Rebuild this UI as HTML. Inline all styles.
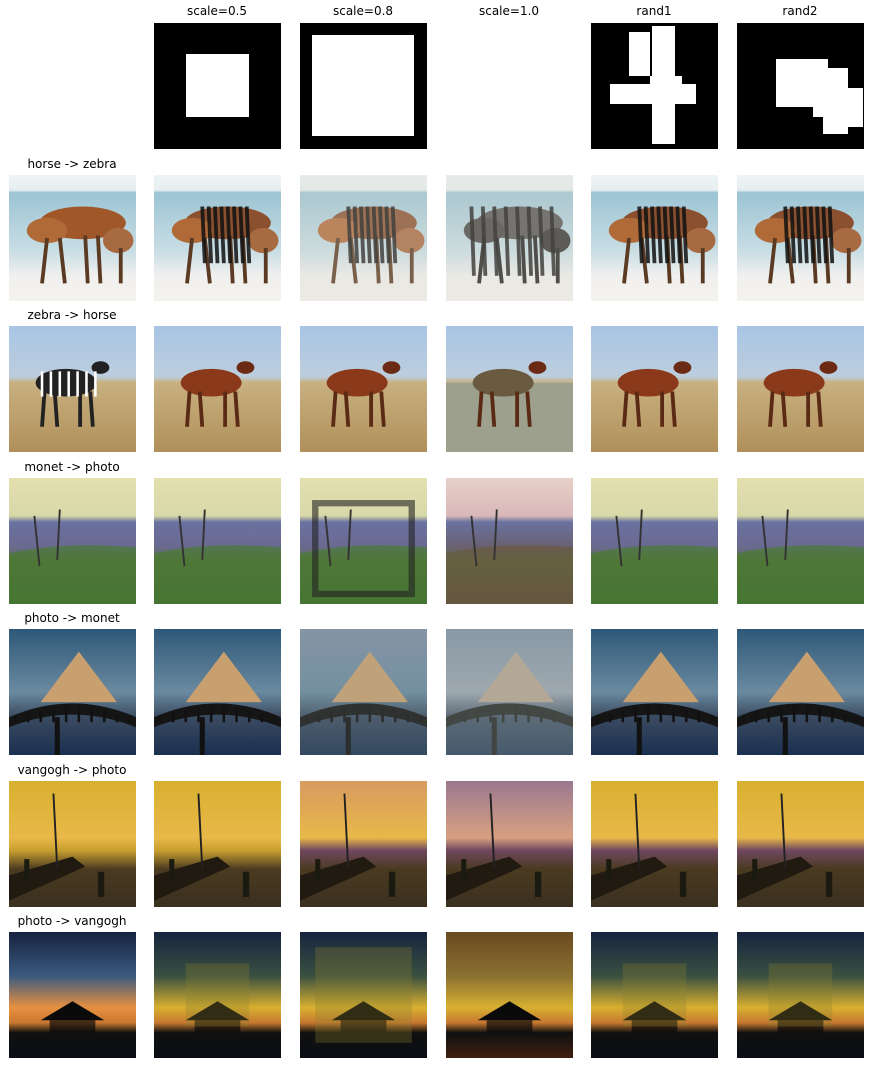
<!DOCTYPE html>
<html><head><meta charset="utf-8">
<style>
body{margin:0;background:#fff;width:870px;height:1066px;position:relative;overflow:hidden;font-family:"DejaVu Sans","Liberation Sans",sans-serif;}
.t{position:absolute;font-size:12px;color:#000;text-align:center;width:160px;white-space:nowrap}
.cell{position:absolute;width:127px;height:126px;overflow:hidden}
.cell svg{display:block}
</style></head><body>
<div id="root"></div>
<script>
const colX=[9,154,300,446,591,737];
const colTitles=["","scale=0.5","scale=0.8","scale=1.0","rand1","rand2"];
const rowY=[175,326,478,629,781,932];
const rowLabels=["horse -> zebra","zebra -> horse","monet -> photo","photo -> monet","vangogh -> photo","photo -> vangogh"];
const root=document.getElementById('root');
const NS='http://www.w3.org/2000/svg';

function label(txt,cx,y,name){
  const d=document.createElement('div');d.className='t';d.textContent=txt;
  d.style.left=(cx-80)+'px';d.style.top=y+'px';
  
  
  root.appendChild(d);
}
colTitles.forEach((t,i)=>{if(t)label(t,colX[i]+63,4,'column-title-'+t.replace(/[=.]/g,'-'));});
rowLabels.forEach((t,i)=>label(t,colX[0]+63,rowY[i]-18,'row-label-'+t.replace(/ -> /,'-to-')));

// masks (pixel rects relative to page)
const masks={
1:[[186,54,63,63]],
2:[[312,35,102,101]],
4:[[629,32,21,44],[652,26,23,118],[650,76,32,8],[610,84,86,20]],
5:[[776,59,52,48],[828,68,20,66],[848,88,15,39],[813,107,15,10],[823,107,25,27]]
};
[1,2,4,5].forEach(c=>{
  const d=document.createElement('div');d.className='cell';
  d.style.left=colX[c]+'px';d.style.top='23px';d.style.background='#000';
  
  
  masks[c].forEach(r=>{const w=document.createElement('div');
    w.style.cssText=`position:absolute;background:#fff;left:${r[0]-colX[c]}px;top:${r[1]-23}px;width:${r[2]}px;height:${r[3]}px`;
    d.appendChild(w);});
  root.appendChild(d);
});

function grad(id,stops){return `<linearGradient id="${id}" x1="0" y1="0" x2="0" y2="1">`+stops.map(s=>`<stop offset="${s[0]}" stop-color="${s[1]}"/>`).join('')+`</linearGradient>`;}
const scenes=[
 // horse
 (c,id)=>{const body=c==0?'#a0582a':'#8a5030';const z=c>=1;
  return `<defs>${grad(id,[[0,'#eef4f4'],[0.12,'#e6eef0'],[0.14,'#9cc4d4'],[0.6,'#c8dde4'],[0.8,'#f0f0ee'],[1,'#f4f2ee']])}</defs>
  <rect width="100" height="100" fill="url(#${id})"/>
  <ellipse cx="58" cy="38" rx="34" ry="13" fill="${c==3?'#555':body}"/>
  <ellipse cx="30" cy="44" rx="16" ry="10" fill="${c==3?'#444':'#b06a38'}"/>
  <ellipse cx="86" cy="52" rx="12" ry="10" fill="${c==3?'#333':'#a86a40'}"/>
  <g stroke="${c==3?'#222':'#5a3a22'}" stroke-width="3"><line x1="30" y1="50" x2="26" y2="86"/><line x1="40" y1="50" x2="44" y2="86"/><line x1="60" y1="48" x2="62" y2="86"/><line x1="70" y1="48" x2="72" y2="86"/><line x1="88" y1="58" x2="88" y2="86"/></g>
  ${z?`<g stroke="#111" stroke-width="3" opacity="0.85">${[0,1,2,3,4,5,6,7].map(k=>`<line x1="${(c==3?20:38)+k*(c==3?9:5)}" y1="25" x2="${(c==3?22:40)+k*(c==3?9:5)}" y2="${c==3?80:70}"/>`).join('')}</g>`:''}
  ${c==2||c==3?`<rect width="100" height="100" fill="#d8d4c8" opacity="0.25"/>`:''}`;},
 // zebra
 (c,id)=>`<defs>${grad(id,[[0,'#a8c4e4'],[0.4,'#bccede'],[0.45,'#c8b080'],[1,'#b0905a']])}</defs>
  <rect width="100" height="100" fill="url(#${id})"/>
  ${c==3?`<rect y="45" width="100" height="55" fill="#9ca08c"/>`:''}
  <ellipse cx="45" cy="45" rx="24" ry="11" fill="${c==0?'#222':c==3?'#6a5a40':'#8a3a1a'}"/>
  <ellipse cx="72" cy="33" rx="7" ry="5" fill="${c==0?'#222':'#6a2a14'}"/>
  <g stroke="${c==0?'#222':'#5a2a14'}" stroke-width="3"><line x1="28" y1="52" x2="26" y2="80"/><line x1="36" y1="52" x2="38" y2="80"/><line x1="56" y1="52" x2="56" y2="80"/><line x1="64" y1="52" x2="66" y2="80"/></g>
  ${c==0?`<g stroke="#fff" stroke-width="2">${[0,1,2,3,4,5,6].map(k=>`<line x1="${26+k*7}" y1="36" x2="${26+k*7}" y2="56"/>`).join('')}</g>`:''}`,
 // monet
 (c,id)=>`<defs>${grad(id,[[0,c==3?'#e8d0c8':'#e4e0b0'],[0.3,c==3?'#d8b8b8':'#d8d8a8'],[0.35,'#6a72a0'],[0.55,c==3?'#6a6070':'#6a6a90'],[0.65,'#5a7040'],[1,c==3?'#5a5040':'#3e6a2e']])}</defs>
  <rect width="100" height="100" fill="url(#${id})"/>
  <path d="M0 60 Q40 50 100 55 L100 100 L0 100Z" fill="${c==3?'#6a5a40':'#4a7a34'}" opacity="0.7"/>
  <path d="M20 30 L24 70 M40 25 L38 65" stroke="#333" stroke-width="1.5"/>
  ${c==2?`<rect x="12" y="20" width="76" height="72" fill="none" stroke="#222" stroke-width="5" opacity="0.6"/>`:''}`,
 // photo->monet
 (c,id)=>`<defs>${grad(id,[[0,c>=2&&c<=3?'#8090a8':'#2e5878'],[0.5,c==3?'#a0a8b8':'#6a8aa0'],[0.7,'#3a4a60'],[1,'#1a3050']])}</defs>
  <rect width="100" height="100" fill="url(#${id})"/>
  <path d="M25 58 L55 18 L85 58Z" fill="${c==3?'#c0a890':'#c8a070'}"/>
  <path d="M0 70 Q50 48 100 70 L100 78 Q50 58 0 78Z" fill="#151515"/>
  <g stroke="#111" stroke-width="2">${[0,1,2,3,4,5,6,7,8,9].map(k=>`<line x1="${5+k*10}" y1="${70-Math.abs(50-(5+k*10))*-0.0-10+Math.abs(50-(5+k*10))*0.2}" x2="${5+k*10}" y2="74"/>`).join('')}<line x1="38" y1="70" x2="38" y2="100" stroke-width="4"/></g>
  ${c==2||c==3?`<rect width="100" height="100" fill="#9aa8a0" opacity="${c==3?0.35:0.2}"/>`:''}`,
 // vangogh->photo
 (c,id)=>`<defs>${grad(id,[[0,c>=2&&c<=3?(c==3?'#9a7890':'#d89a60'):'#d8b030'],[0.45,c==3?'#d8a080':'#e8b848'],[0.55,c>=2?'#704860':'#c8a030'],[0.7,'#4a3a20'],[1,'#3a3020']])}</defs>
  <rect width="100" height="100" fill="url(#${id})"/>
  <path d="M0 75 L50 60 L60 68 L0 95Z" fill="#201a10"/>
  <path d="M35 10 L38 70" stroke="#222" stroke-width="1.5"/>
  <g fill="#1a1a10"><rect x="12" y="62" width="4" height="16"/><rect x="70" y="72" width="5" height="20"/></g>`,
 // photo->vangogh
 (c,id)=>`<defs>${grad(id,[[0,c==3?'#6a4a20':'#16243e'],[0.35,c==3?'#8a7030':c==0?'#3a5a80':'#3a5040'],[0.6,c==0?'#e89040':'#d8b030'],[0.72,'#c87830'],[0.8,'#101010'],[1,c==3?'#402010':'#0a0e14']])}</defs>
  <rect width="100" height="100" fill="url(#${id})"/>
  <path d="M25 70 L50 55 L75 70Z" fill="#0a0a0a"/><rect x="32" y="70" width="36" height="10" fill="#0a0a0a" opacity="0.7"/>
  ${c>=1&&c!=3?`<rect x="${c==2?12:25}" y="${c==2?12:25}" width="${c==2?76:50}" height="${c==2?76:50}" fill="#8a8030" opacity="0.3"/>`:''}`
];
rowY.forEach((y,r)=>{colX.forEach((x,c)=>{
  const d=document.createElement('div');d.className='cell';
  d.style.left=x+'px';d.style.top=y+'px';
  
  
  d.innerHTML=`<svg xmlns="${NS}" width="127" height="126" viewBox="0 0 100 100" preserveAspectRatio="none">${scenes[r](c,'g'+r+'_'+c)}</svg>`;
  root.appendChild(d);
});});
</script>
</body></html>
